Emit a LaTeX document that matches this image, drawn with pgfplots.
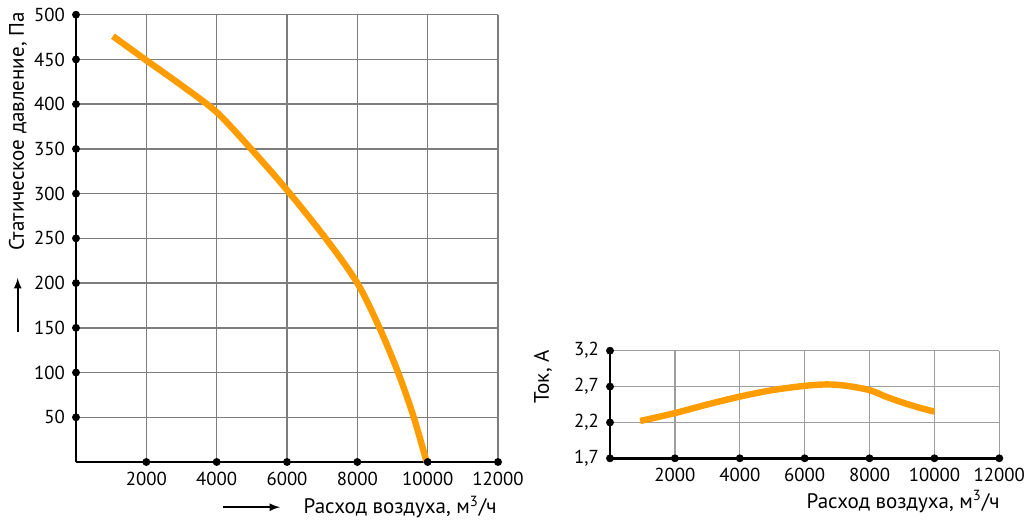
\documentclass[border=0pt]{standalone}
\usepackage{pgfplots}
\pgfplotsset{compat=1.18}
\usepackage{fontspec}
\setmainfont{PT Sans}

\definecolor{curve}{RGB}{255,157,0}
\definecolor{gridc}{RGB}{125,125,125}

% coordinates below: 1 px of the 1024x520 reference = 0.5pt
\pgfplotsset{
  fancontrol/.style={
    scale only axis,
    axis x line=bottom, axis y line=left,
    axis line style={-, line width=1.3pt, black},
    major tick length=0pt,
    grid=major,
    major grid style={gridc, line width=0.7pt},
    xmin=0, xmax=12000,
    scaled x ticks=false, scaled y ticks=false,
    xtick={2000,4000,...,12000},
    xticklabels={2000,4000,6000,8000,10000,12000},
    tick label style={font=\fontsize{9.4}{11}\selectfont},
    /pgf/number format/assume math mode=true,
    xticklabel style={yshift=-1.5pt},
    yticklabel style={xshift=-2pt},
    clip=false,
  },
}

\begin{document}
\begin{tikzpicture}
\path[use as bounding box] (0,0) rectangle (512pt,260pt);

% left: static pressure
\begin{axis}[fancontrol,
  at={(38pt,29pt)}, anchor=south west,
  width=211pt, height=223.65pt,
  ymin=0, ymax=500,
  ytick={50,100,...,500},
  yticklabels={50,100,150,200,250,300,350,400,450,500},
]
\addplot[curve, line width=3.2pt, smooth] coordinates {
  (1050,476) (2000,449) (3000,421) (4000,391) (5000,349) (6000,304)
  (7100,250) (8000,200) (8630,150) (9160,100) (9605,50) (9970,0)
};
\addplot[only marks, mark=*, mark size=1.75pt, black] coordinates {
  (2000,0) (4000,0) (6000,0) (8000,0) (10000,0) (12000,0)
  (0,50) (0,100) (0,150) (0,200) (0,250) (0,300) (0,350) (0,400) (0,450) (0,500)
};
\end{axis}

% right: current
\begin{axis}[fancontrol,
  at={(305pt,30.85pt)}, anchor=south west,
  width=194.65pt, height=53.8pt,
  ymin=1.7, ymax=3.2,
  ytick={1.7,2.2,2.7,3.2},
  yticklabels={{1,7},{2,2},{2,7},{3,2}},
  major grid style={gridc!75, line width=0.7pt},
]
\addplot[curve, line width=3.2pt, smooth] coordinates {
  (930,2.22) (2000,2.33) (3000,2.45) (4000,2.56) (5000,2.65) (6000,2.71)
  (6700,2.73) (7300,2.71) (8000,2.65) (8500,2.56) (9000,2.48)
  (9500,2.41) (10000,2.35)
};
\addplot[only marks, mark=*, mark size=1.75pt, black] coordinates {
  (0,1.7) (2000,1.7) (4000,1.7) (6000,1.7) (8000,1.7) (10000,1.7) (12000,1.7)
  (0,2.2) (0,2.7) (0,3.2)
};
\end{axis}

% axis titles and arrows
\node[rotate=90, anchor=east, inner sep=0pt, font=\fontsize{10.5}{12}\selectfont]
  at (9pt,254pt) {Статическое давление, Па};
\draw[line width=0.8pt, -latex] (8.85pt,94.2pt) -- (8.85pt,121pt);
\draw[line width=0.8pt, -latex] (111.3pt,6.4pt) -- (140pt,6.4pt);
\node[anchor=base east, inner sep=0pt, font=\fontsize{10.5}{12}\selectfont]
  at (248.5pt,3pt) {Расход воздуха, м\textsuperscript{3}/ч};

\node[rotate=90, anchor=east, inner sep=0pt, font=\fontsize{10.5}{12}\selectfont]
  at (271.5pt,85pt) {Ток, А};
\node[anchor=base east, inner sep=0pt, font=\fontsize{10.5}{12}\selectfont]
  at (500pt,5.8pt) {Расход воздуха, м\textsuperscript{3}/ч};
\end{tikzpicture}
\end{document}
